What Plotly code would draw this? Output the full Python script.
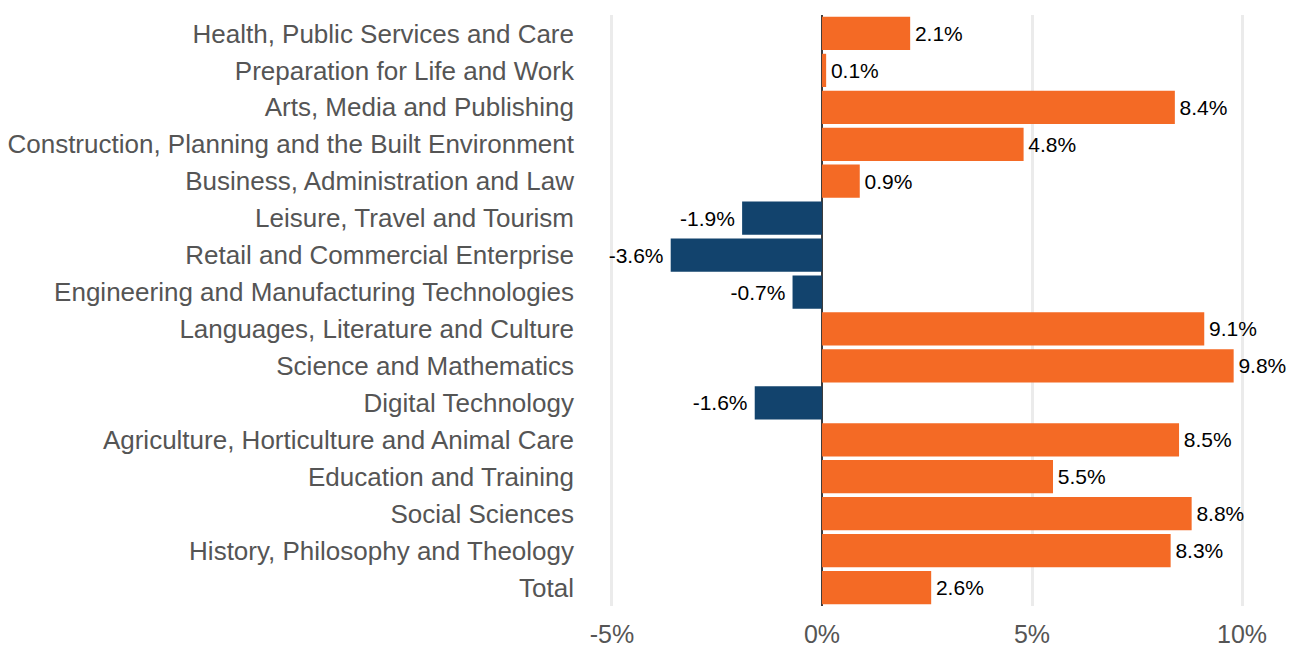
import plotly.graph_objects as go

categories = [
    "Health, Public Services and Care",
    "Preparation for Life and Work",
    "Arts, Media and Publishing",
    "Construction, Planning and the Built Environment",
    "Business, Administration and Law",
    "Leisure, Travel and Tourism",
    "Retail and Commercial Enterprise",
    "Engineering and Manufacturing Technologies",
    "Languages, Literature and Culture",
    "Science and Mathematics",
    "Digital Technology",
    "Agriculture, Horticulture and Animal Care",
    "Education and Training",
    "Social Sciences",
    "History, Philosophy and Theology",
    "Total",
]
values = [2.1, 0.1, 8.4, 4.8, 0.9, -1.9, -3.6, -0.7, 9.1, 9.8, -1.6, 8.5, 5.5, 8.8, 8.3, 2.6]
tick_vals = [-5, 0, 5, 10]
tick_text = ["-5%", "0%", "5%", "10%"]

ORANGE = "#F46A25"
NAVY = "#12436D"
colors = [ORANGE if v >= 0 else NAVY for v in values]
labels = [f"\u200a{v:.1f}%" if v >= 0 else f"{v:.1f}%\u2009" for v in values]

FONT = "Liberation Sans, Arial, sans-serif"

fig = go.Figure(go.Bar(
    x=values,
    y=categories,
    orientation="h",
    marker=dict(color=colors, line=dict(width=0)),
    text=labels,
    textposition="outside",
    textfont=dict(family=FONT, size=21, color="#000000"),
    cliponaxis=False,
    hoverinfo="skip",
))

# page body has an 8px default margin, so the figure is shifted by (8, 8)
fig.update_layout(
    width=1292,
    height=639,
    margin=dict(l=577, r=5, t=7, b=41),
    plot_bgcolor="white",
    paper_bgcolor="white",
    bargap=0.1,
    showlegend=False,
    font=dict(family=FONT),
)
fig.update_xaxes(
    range=[-5.64, 11.26],
    tickvals=tick_vals,
    ticktext=tick_text,
    showgrid=True,
    gridcolor="#EBEBEB",
    gridwidth=2.5,
    zeroline=True,
    zerolinecolor="#3C3C3C",
    zerolinewidth=2,
    tickfont=dict(size=25, color="#555555"),
    ticks="",
    ticklabelstandoff=11,
    showline=False,
    automargin=False,
)
fig.update_yaxes(
    categoryorder="array",
    categoryarray=categories,
    autorange="reversed",
    tickfont=dict(size=26, color="#555555"),
    ticks="",
    ticklabelstandoff=10,
    showgrid=False,
    showline=False,
    automargin=False,
)

fig.write_html("out.html")
